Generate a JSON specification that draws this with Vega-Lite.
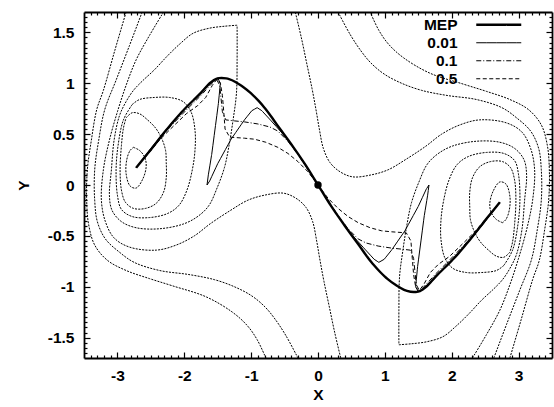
{
"$schema": "https://vega.github.io/schema/vega-lite/v6.json",
"width": 468, "height": 346,
"autosize": {"type": "none"},
"padding": {"left": 84, "top": 12, "right": 2, "bottom": 49},
"background": "white",
"config": {
  "view": {"stroke": null},
  "font": "Liberation Sans",
  "axis": {"grid": false, "domainColor": "black", "tickColor": "black", "labelColor": "black", "titleColor": "black",
           "labelFont": "Liberation Sans", "titleFont": "Liberation Sans", "labelFontSize": 15.5, "titleFontSize": 15.5,
           "labelFontWeight": "bold", "titleFontWeight": "bold", "domainWidth": 1.8, "tickWidth": 1.2, "labelFlush": false, "labelOverlap": false}
},
"datasets": {
"contours": [
{"c":"N1L","i":0,"x":-2.76,"y":0.37},{"c":"N1L","i":1,"x":-2.67,"y":0.34},{"c":"N1L","i":2,"x":-2.59,"y":0.27},{"c":"N1L","i":3,"x":-2.57,"y":0.18},{"c":"N1L","i":4,"x":-2.62,"y":0.06},{"c":"N1L","i":5,"x":-2.72,"y":-0.03},{"c":"N1L","i":6,"x":-2.81,"y":-0.01},{"c":"N1L","i":7,"x":-2.87,"y":0.11},{"c":"N1L","i":8,"x":-2.86,"y":0.25},{"c":"N1L","i":9,"x":-2.81,"y":0.34},{"c":"N1L","i":10,"x":-2.76,"y":0.37},
{"c":"N1R","i":0,"x":2.76,"y":-0.37},{"c":"N1R","i":1,"x":2.67,"y":-0.34},{"c":"N1R","i":2,"x":2.59,"y":-0.27},{"c":"N1R","i":3,"x":2.57,"y":-0.18},{"c":"N1R","i":4,"x":2.62,"y":-0.06},{"c":"N1R","i":5,"x":2.72,"y":0.03},{"c":"N1R","i":6,"x":2.81,"y":0.01},{"c":"N1R","i":7,"x":2.87,"y":-0.11},{"c":"N1R","i":8,"x":2.86,"y":-0.25},{"c":"N1R","i":9,"x":2.81,"y":-0.34},{"c":"N1R","i":10,"x":2.76,"y":-0.37},
{"c":"N2L","i":0,"x":-2.87,"y":0.66},{"c":"N2L","i":1,"x":-2.78,"y":0.71},{"c":"N2L","i":2,"x":-2.67,"y":0.70},{"c":"N2L","i":3,"x":-2.55,"y":0.64},{"c":"N2L","i":4,"x":-2.43,"y":0.56},{"c":"N2L","i":5,"x":-2.34,"y":0.46},{"c":"N2L","i":6,"x":-2.28,"y":0.34},{"c":"N2L","i":7,"x":-2.27,"y":0.22},{"c":"N2L","i":8,"x":-2.27,"y":0.07},{"c":"N2L","i":9,"x":-2.31,"y":-0.07},{"c":"N2L","i":10,"x":-2.42,"y":-0.18},{"c":"N2L","i":11,"x":-2.58,"y":-0.23},{"c":"N2L","i":12,"x":-2.76,"y":-0.23},{"c":"N2L","i":13,"x":-2.88,"y":-0.17},{"c":"N2L","i":14,"x":-2.94,"y":-0.05},{"c":"N2L","i":15,"x":-2.96,"y":0.15},{"c":"N2L","i":16,"x":-2.94,"y":0.39},{"c":"N2L","i":17,"x":-2.91,"y":0.56},{"c":"N2L","i":18,"x":-2.87,"y":0.66},
{"c":"N2R","i":0,"x":2.87,"y":-0.66},{"c":"N2R","i":1,"x":2.78,"y":-0.71},{"c":"N2R","i":2,"x":2.67,"y":-0.70},{"c":"N2R","i":3,"x":2.55,"y":-0.64},{"c":"N2R","i":4,"x":2.43,"y":-0.56},{"c":"N2R","i":5,"x":2.34,"y":-0.46},{"c":"N2R","i":6,"x":2.28,"y":-0.34},{"c":"N2R","i":7,"x":2.27,"y":-0.22},{"c":"N2R","i":8,"x":2.27,"y":-0.07},{"c":"N2R","i":9,"x":2.31,"y":0.07},{"c":"N2R","i":10,"x":2.42,"y":0.18},{"c":"N2R","i":11,"x":2.58,"y":0.23},{"c":"N2R","i":12,"x":2.76,"y":0.23},{"c":"N2R","i":13,"x":2.88,"y":0.17},{"c":"N2R","i":14,"x":2.94,"y":0.05},{"c":"N2R","i":15,"x":2.96,"y":-0.15},{"c":"N2R","i":16,"x":2.94,"y":-0.39},{"c":"N2R","i":17,"x":2.91,"y":-0.56},{"c":"N2R","i":18,"x":2.87,"y":-0.66},
{"c":"CaL","i":0,"x":-2.78,"y":0.79},{"c":"CaL","i":1,"x":-2.67,"y":0.84},{"c":"CaL","i":2,"x":-2.45,"y":0.86},{"c":"CaL","i":3,"x":-2.22,"y":0.86},{"c":"CaL","i":4,"x":-2.02,"y":0.82},{"c":"CaL","i":5,"x":-1.90,"y":0.72},{"c":"CaL","i":6,"x":-1.84,"y":0.54},{"c":"CaL","i":7,"x":-1.84,"y":0.34},{"c":"CaL","i":8,"x":-1.88,"y":0.15},{"c":"CaL","i":9,"x":-1.96,"y":-0.05},{"c":"CaL","i":10,"x":-2.08,"y":-0.20},{"c":"CaL","i":11,"x":-2.25,"y":-0.28},{"c":"CaL","i":12,"x":-2.52,"y":-0.32},{"c":"CaL","i":13,"x":-2.78,"y":-0.31},{"c":"CaL","i":14,"x":-2.94,"y":-0.24},{"c":"CaL","i":15,"x":-3.0,"y":-0.10},{"c":"CaL","i":16,"x":-3.02,"y":0.15},{"c":"CaL","i":17,"x":-2.99,"y":0.39},{"c":"CaL","i":18,"x":-2.91,"y":0.64},{"c":"CaL","i":19,"x":-2.78,"y":0.79},
{"c":"CaR","i":0,"x":2.78,"y":-0.79},{"c":"CaR","i":1,"x":2.67,"y":-0.84},{"c":"CaR","i":2,"x":2.45,"y":-0.86},{"c":"CaR","i":3,"x":2.22,"y":-0.86},{"c":"CaR","i":4,"x":2.02,"y":-0.82},{"c":"CaR","i":5,"x":1.90,"y":-0.72},{"c":"CaR","i":6,"x":1.84,"y":-0.54},{"c":"CaR","i":7,"x":1.84,"y":-0.34},{"c":"CaR","i":8,"x":1.88,"y":-0.15},{"c":"CaR","i":9,"x":1.96,"y":0.05},{"c":"CaR","i":10,"x":2.08,"y":0.20},{"c":"CaR","i":11,"x":2.25,"y":0.28},{"c":"CaR","i":12,"x":2.52,"y":0.32},{"c":"CaR","i":13,"x":2.78,"y":0.31},{"c":"CaR","i":14,"x":2.94,"y":0.24},{"c":"CaR","i":15,"x":3.0,"y":0.10},{"c":"CaR","i":16,"x":3.02,"y":-0.15},{"c":"CaR","i":17,"x":2.99,"y":-0.39},{"c":"CaR","i":18,"x":2.91,"y":-0.64},{"c":"CaR","i":19,"x":2.78,"y":-0.79},
{"c":"BoxL","i":0,"x":-1.21,"y":1.57},{"c":"BoxL","i":1,"x":-1.40,"y":1.56},{"c":"BoxL","i":2,"x":-1.63,"y":1.54},{"c":"BoxL","i":3,"x":-1.87,"y":1.49},{"c":"BoxL","i":4,"x":-2.06,"y":1.39},{"c":"BoxL","i":5,"x":-2.25,"y":1.27},{"c":"BoxL","i":6,"x":-2.45,"y":1.13},{"c":"BoxL","i":7,"x":-2.63,"y":1.02},{"c":"BoxL","i":8,"x":-2.76,"y":0.93},{"c":"BoxL","i":9,"x":-2.87,"y":0.82},{"c":"BoxL","i":10,"x":-2.97,"y":0.68},{"c":"BoxL","i":11,"x":-3.05,"y":0.44},{"c":"BoxL","i":12,"x":-3.09,"y":0.15},{"c":"BoxL","i":13,"x":-3.12,"y":-0.10},{"c":"BoxL","i":14,"x":-3.08,"y":-0.25},{"c":"BoxL","i":15,"x":-2.94,"y":-0.36},{"c":"BoxL","i":16,"x":-2.72,"y":-0.42},{"c":"BoxL","i":17,"x":-2.37,"y":-0.43},{"c":"BoxL","i":18,"x":-2.0,"y":-0.38},{"c":"BoxL","i":19,"x":-1.78,"y":-0.30},{"c":"BoxL","i":20,"x":-1.63,"y":-0.20},{"c":"BoxL","i":21,"x":-1.51,"y":-0.03},{"c":"BoxL","i":22,"x":-1.40,"y":0.17},{"c":"BoxL","i":23,"x":-1.33,"y":0.39},{"c":"BoxL","i":24,"x":-1.27,"y":0.64},{"c":"BoxL","i":25,"x":-1.22,"y":0.90},{"c":"BoxL","i":26,"x":-1.21,"y":1.23},{"c":"BoxL","i":27,"x":-1.21,"y":1.57},
{"c":"BoxR","i":0,"x":1.21,"y":-1.57},{"c":"BoxR","i":1,"x":1.40,"y":-1.56},{"c":"BoxR","i":2,"x":1.63,"y":-1.54},{"c":"BoxR","i":3,"x":1.87,"y":-1.49},{"c":"BoxR","i":4,"x":2.06,"y":-1.39},{"c":"BoxR","i":5,"x":2.25,"y":-1.27},{"c":"BoxR","i":6,"x":2.45,"y":-1.13},{"c":"BoxR","i":7,"x":2.63,"y":-1.02},{"c":"BoxR","i":8,"x":2.76,"y":-0.93},{"c":"BoxR","i":9,"x":2.87,"y":-0.82},{"c":"BoxR","i":10,"x":2.97,"y":-0.68},{"c":"BoxR","i":11,"x":3.05,"y":-0.44},{"c":"BoxR","i":12,"x":3.09,"y":-0.15},{"c":"BoxR","i":13,"x":3.12,"y":0.10},{"c":"BoxR","i":14,"x":3.08,"y":0.25},{"c":"BoxR","i":15,"x":2.94,"y":0.36},{"c":"BoxR","i":16,"x":2.72,"y":0.42},{"c":"BoxR","i":17,"x":2.37,"y":0.43},{"c":"BoxR","i":18,"x":2.0,"y":0.38},{"c":"BoxR","i":19,"x":1.78,"y":0.30},{"c":"BoxR","i":20,"x":1.63,"y":0.20},{"c":"BoxR","i":21,"x":1.51,"y":0.03},{"c":"BoxR","i":22,"x":1.40,"y":-0.17},{"c":"BoxR","i":23,"x":1.33,"y":-0.39},{"c":"BoxR","i":24,"x":1.27,"y":-0.64},{"c":"BoxR","i":25,"x":1.22,"y":-0.90},{"c":"BoxR","i":26,"x":1.21,"y":-1.23},{"c":"BoxR","i":27,"x":1.21,"y":-1.57},
{"c":"b3L","i":0,"x":-2.31,"y":1.70},{"c":"b3L","i":1,"x":-2.52,"y":1.47},{"c":"b3L","i":2,"x":-2.72,"y":1.23},{"c":"b3L","i":3,"x":-2.87,"y":0.98},{"c":"b3L","i":4,"x":-3.0,"y":0.72},{"c":"b3L","i":5,"x":-3.12,"y":0.44},{"c":"b3L","i":6,"x":-3.21,"y":0.15},{"c":"b3L","i":7,"x":-3.24,"y":-0.15},{"c":"b3L","i":8,"x":-3.18,"y":-0.36},{"c":"b3L","i":9,"x":-3.05,"y":-0.52},{"c":"b3L","i":10,"x":-2.82,"y":-0.61},{"c":"b3L","i":11,"x":-2.42,"y":-0.64},{"c":"b3L","i":12,"x":-2.12,"y":-0.59},{"c":"b3L","i":13,"x":-1.85,"y":-0.50},{"c":"b3L","i":14,"x":-1.61,"y":-0.38},{"c":"b3L","i":15,"x":-1.31,"y":-0.25},{"c":"b3L","i":16,"x":-1.05,"y":-0.15},{"c":"b3L","i":17,"x":-0.80,"y":-0.10},{"c":"b3L","i":18,"x":-0.52,"y":-0.08},{"c":"b3L","i":19,"x":-0.33,"y":-0.13},{"c":"b3L","i":20,"x":-0.18,"y":-0.22},{"c":"b3L","i":21,"x":-0.08,"y":-0.36},{"c":"b3L","i":22,"x":-0.02,"y":-0.55},{"c":"b3L","i":23,"x":0.03,"y":-0.74},{"c":"b3L","i":24,"x":0.09,"y":-0.95},{"c":"b3L","i":25,"x":0.17,"y":-1.20},{"c":"b3L","i":26,"x":0.25,"y":-1.45},{"c":"b3L","i":27,"x":0.34,"y":-1.70},
{"c":"b3R","i":0,"x":2.31,"y":-1.70},{"c":"b3R","i":1,"x":2.52,"y":-1.47},{"c":"b3R","i":2,"x":2.72,"y":-1.23},{"c":"b3R","i":3,"x":2.87,"y":-0.98},{"c":"b3R","i":4,"x":3.0,"y":-0.72},{"c":"b3R","i":5,"x":3.12,"y":-0.44},{"c":"b3R","i":6,"x":3.21,"y":-0.15},{"c":"b3R","i":7,"x":3.24,"y":0.15},{"c":"b3R","i":8,"x":3.18,"y":0.36},{"c":"b3R","i":9,"x":3.05,"y":0.52},{"c":"b3R","i":10,"x":2.82,"y":0.61},{"c":"b3R","i":11,"x":2.42,"y":0.64},{"c":"b3R","i":12,"x":2.12,"y":0.59},{"c":"b3R","i":13,"x":1.85,"y":0.50},{"c":"b3R","i":14,"x":1.61,"y":0.38},{"c":"b3R","i":15,"x":1.31,"y":0.25},{"c":"b3R","i":16,"x":1.05,"y":0.15},{"c":"b3R","i":17,"x":0.80,"y":0.10},{"c":"b3R","i":18,"x":0.52,"y":0.08},{"c":"b3R","i":19,"x":0.33,"y":0.13},{"c":"b3R","i":20,"x":0.18,"y":0.22},{"c":"b3R","i":21,"x":0.08,"y":0.36},{"c":"b3R","i":22,"x":0.02,"y":0.55},{"c":"b3R","i":23,"x":-0.03,"y":0.74},{"c":"b3R","i":24,"x":-0.09,"y":0.95},{"c":"b3R","i":25,"x":-0.17,"y":1.20},{"c":"b3R","i":26,"x":-0.25,"y":1.45},{"c":"b3R","i":27,"x":-0.34,"y":1.70},
{"c":"b4L","i":0,"x":-2.63,"y":1.70},{"c":"b4L","i":1,"x":-2.82,"y":1.37},{"c":"b4L","i":2,"x":-3.02,"y":1.03},{"c":"b4L","i":3,"x":-3.19,"y":0.74},{"c":"b4L","i":4,"x":-3.28,"y":0.44},{"c":"b4L","i":5,"x":-3.34,"y":0.15},{"c":"b4L","i":6,"x":-3.34,"y":-0.15},{"c":"b4L","i":7,"x":-3.30,"y":-0.36},{"c":"b4L","i":8,"x":-3.18,"y":-0.53},{"c":"b4L","i":9,"x":-2.97,"y":-0.66},{"c":"b4L","i":10,"x":-2.75,"y":-0.76},{"c":"b4L","i":11,"x":-2.37,"y":-0.84},{"c":"b4L","i":12,"x":-1.93,"y":-0.88},{"c":"b4L","i":13,"x":-1.55,"y":-0.93},{"c":"b4L","i":14,"x":-1.25,"y":-1.0},{"c":"b4L","i":15,"x":-0.99,"y":-1.09},{"c":"b4L","i":16,"x":-0.79,"y":-1.2},{"c":"b4L","i":17,"x":-0.64,"y":-1.32},{"c":"b4L","i":18,"x":-0.48,"y":-1.48},{"c":"b4L","i":19,"x":-0.30,"y":-1.70},
{"c":"b4R","i":0,"x":2.63,"y":-1.70},{"c":"b4R","i":1,"x":2.82,"y":-1.37},{"c":"b4R","i":2,"x":3.02,"y":-1.03},{"c":"b4R","i":3,"x":3.19,"y":-0.74},{"c":"b4R","i":4,"x":3.28,"y":-0.44},{"c":"b4R","i":5,"x":3.34,"y":-0.15},{"c":"b4R","i":6,"x":3.34,"y":0.15},{"c":"b4R","i":7,"x":3.30,"y":0.36},{"c":"b4R","i":8,"x":3.18,"y":0.53},{"c":"b4R","i":9,"x":2.97,"y":0.66},{"c":"b4R","i":10,"x":2.75,"y":0.76},{"c":"b4R","i":11,"x":2.37,"y":0.84},{"c":"b4R","i":12,"x":1.93,"y":0.88},{"c":"b4R","i":13,"x":1.55,"y":0.93},{"c":"b4R","i":14,"x":1.25,"y":1.0},{"c":"b4R","i":15,"x":0.99,"y":1.09},{"c":"b4R","i":16,"x":0.79,"y":1.2},{"c":"b4R","i":17,"x":0.64,"y":1.32},{"c":"b4R","i":18,"x":0.48,"y":1.48},{"c":"b4R","i":19,"x":0.30,"y":1.70},
{"c":"b5L","i":0,"x":-2.87,"y":1.70},{"c":"b5L","i":1,"x":-3.04,"y":1.32},{"c":"b5L","i":2,"x":-3.21,"y":0.93},{"c":"b5L","i":3,"x":-3.31,"y":0.74},{"c":"b5L","i":4,"x":-3.39,"y":0.44},{"c":"b5L","i":5,"x":-3.45,"y":0.15},{"c":"b5L","i":6,"x":-3.46,"y":-0.15},{"c":"b5L","i":7,"x":-3.43,"y":-0.39},{"c":"b5L","i":8,"x":-3.34,"y":-0.59},{"c":"b5L","i":9,"x":-3.15,"y":-0.74},{"c":"b5L","i":10,"x":-2.87,"y":-0.84},{"c":"b5L","i":11,"x":-2.52,"y":-0.92},{"c":"b5L","i":12,"x":-2.18,"y":-0.99},{"c":"b5L","i":13,"x":-1.67,"y":-1.10},{"c":"b5L","i":14,"x":-1.28,"y":-1.25},{"c":"b5L","i":15,"x":-1.06,"y":-1.38},{"c":"b5L","i":16,"x":-0.91,"y":-1.52},{"c":"b5L","i":17,"x":-0.78,"y":-1.70},
{"c":"b5R","i":0,"x":2.87,"y":-1.70},{"c":"b5R","i":1,"x":3.04,"y":-1.32},{"c":"b5R","i":2,"x":3.21,"y":-0.93},{"c":"b5R","i":3,"x":3.31,"y":-0.74},{"c":"b5R","i":4,"x":3.39,"y":-0.44},{"c":"b5R","i":5,"x":3.45,"y":-0.15},{"c":"b5R","i":6,"x":3.46,"y":0.15},{"c":"b5R","i":7,"x":3.43,"y":0.39},{"c":"b5R","i":8,"x":3.34,"y":0.59},{"c":"b5R","i":9,"x":3.15,"y":0.74},{"c":"b5R","i":10,"x":2.87,"y":0.84},{"c":"b5R","i":11,"x":2.52,"y":0.92},{"c":"b5R","i":12,"x":2.18,"y":0.99},{"c":"b5R","i":13,"x":1.67,"y":1.10},{"c":"b5R","i":14,"x":1.28,"y":1.25},{"c":"b5R","i":15,"x":1.06,"y":1.38},{"c":"b5R","i":16,"x":0.91,"y":1.52},{"c":"b5R","i":17,"x":0.78,"y":1.70}
],
"paths": [
{"p":"MEP","i":0,"x":-2.72,"y":0.17},{"p":"MEP","i":1,"x":-2.51,"y":0.34},{"p":"MEP","i":2,"x":-2.27,"y":0.54},{"p":"MEP","i":3,"x":-2.02,"y":0.73},{"p":"MEP","i":4,"x":-1.76,"y":0.90},{"p":"MEP","i":5,"x":-1.6,"y":1.01},{"p":"MEP","i":6,"x":-1.48,"y":1.05},{"p":"MEP","i":7,"x":-1.33,"y":1.04},{"p":"MEP","i":8,"x":-1.18,"y":0.99},{"p":"MEP","i":9,"x":-1.0,"y":0.90},{"p":"MEP","i":10,"x":-0.8,"y":0.76},{"p":"MEP","i":11,"x":-0.6,"y":0.58},{"p":"MEP","i":12,"x":-0.4,"y":0.40},{"p":"MEP","i":13,"x":-0.2,"y":0.21},{"p":"MEP","i":14,"x":0,"y":0},{"p":"MEP","i":15,"x":0.2,"y":-0.21},{"p":"MEP","i":16,"x":0.4,"y":-0.40},{"p":"MEP","i":17,"x":0.6,"y":-0.58},{"p":"MEP","i":18,"x":0.8,"y":-0.76},{"p":"MEP","i":19,"x":1.0,"y":-0.90},{"p":"MEP","i":20,"x":1.18,"y":-0.99},{"p":"MEP","i":21,"x":1.33,"y":-1.04},{"p":"MEP","i":22,"x":1.48,"y":-1.05},{"p":"MEP","i":23,"x":1.6,"y":-1.01},{"p":"MEP","i":24,"x":1.76,"y":-0.90},{"p":"MEP","i":25,"x":2.02,"y":-0.73},{"p":"MEP","i":26,"x":2.27,"y":-0.54},{"p":"MEP","i":27,"x":2.51,"y":-0.34},{"p":"MEP","i":28,"x":2.72,"y":-0.17},
{"p":"0.01","i":0,"x":-2.72,"y":0.17},{"p":"0.01","i":1,"x":-2.5,"y":0.36},{"p":"0.01","i":2,"x":-2.2,"y":0.60},{"p":"0.01","i":3,"x":-1.9,"y":0.81},{"p":"0.01","i":4,"x":-1.7,"y":0.95},{"p":"0.01","i":5,"x":-1.56,"y":1.03},{"p":"0.01","i":6,"x":-1.5,"y":1.05},{"p":"0.01","i":7,"x":-1.46,"y":1.0},{"p":"0.01","i":8,"x":-1.49,"y":0.80},{"p":"0.01","i":9,"x":-1.54,"y":0.55},{"p":"0.01","i":10,"x":-1.59,"y":0.30},{"p":"0.01","i":11,"x":-1.64,"y":0.10},{"p":"0.01","i":12,"x":-1.66,"y":0.0},{"p":"0.01","i":13,"x":-1.62,"y":0.04},{"p":"0.01","i":14,"x":-1.5,"y":0.21},{"p":"0.01","i":15,"x":-1.3,"y":0.45},{"p":"0.01","i":16,"x":-1.1,"y":0.64},{"p":"0.01","i":17,"x":-0.99,"y":0.73},{"p":"0.01","i":18,"x":-0.91,"y":0.76},{"p":"0.01","i":19,"x":-0.84,"y":0.73},{"p":"0.01","i":20,"x":-0.7,"y":0.63},{"p":"0.01","i":21,"x":-0.55,"y":0.52},{"p":"0.01","i":22,"x":-0.4,"y":0.40},{"p":"0.01","i":23,"x":-0.2,"y":0.21},{"p":"0.01","i":24,"x":0,"y":0},{"p":"0.01","i":25,"x":0.2,"y":-0.21},{"p":"0.01","i":26,"x":0.4,"y":-0.40},{"p":"0.01","i":27,"x":0.55,"y":-0.52},{"p":"0.01","i":28,"x":0.7,"y":-0.63},{"p":"0.01","i":29,"x":0.84,"y":-0.73},{"p":"0.01","i":30,"x":0.91,"y":-0.76},{"p":"0.01","i":31,"x":0.99,"y":-0.73},{"p":"0.01","i":32,"x":1.1,"y":-0.64},{"p":"0.01","i":33,"x":1.3,"y":-0.45},{"p":"0.01","i":34,"x":1.5,"y":-0.21},{"p":"0.01","i":35,"x":1.62,"y":-0.04},{"p":"0.01","i":36,"x":1.66,"y":0.0},{"p":"0.01","i":37,"x":1.64,"y":-0.10},{"p":"0.01","i":38,"x":1.59,"y":-0.30},{"p":"0.01","i":39,"x":1.54,"y":-0.55},{"p":"0.01","i":40,"x":1.49,"y":-0.80},{"p":"0.01","i":41,"x":1.46,"y":-1.0},{"p":"0.01","i":42,"x":1.5,"y":-1.05},{"p":"0.01","i":43,"x":1.56,"y":-1.03},{"p":"0.01","i":44,"x":1.7,"y":-0.95},{"p":"0.01","i":45,"x":1.9,"y":-0.81},{"p":"0.01","i":46,"x":2.2,"y":-0.60},{"p":"0.01","i":47,"x":2.5,"y":-0.36},{"p":"0.01","i":48,"x":2.72,"y":-0.17},
{"p":"0.1","i":0,"x":-2.72,"y":0.17},{"p":"0.1","i":1,"x":-2.45,"y":0.39},{"p":"0.1","i":2,"x":-2.2,"y":0.58},{"p":"0.1","i":3,"x":-1.95,"y":0.75},{"p":"0.1","i":4,"x":-1.75,"y":0.88},{"p":"0.1","i":5,"x":-1.6,"y":0.99},{"p":"0.1","i":6,"x":-1.52,"y":1.04},{"p":"0.1","i":7,"x":-1.47,"y":0.98},{"p":"0.1","i":8,"x":-1.45,"y":0.85},{"p":"0.1","i":9,"x":-1.43,"y":0.72},{"p":"0.1","i":10,"x":-1.38,"y":0.64},{"p":"0.1","i":11,"x":-1.25,"y":0.63},{"p":"0.1","i":12,"x":-1.1,"y":0.62},{"p":"0.1","i":13,"x":-0.9,"y":0.60},{"p":"0.1","i":14,"x":-0.72,"y":0.57},{"p":"0.1","i":15,"x":-0.6,"y":0.53},{"p":"0.1","i":16,"x":-0.45,"y":0.43},{"p":"0.1","i":17,"x":-0.3,"y":0.3},{"p":"0.1","i":18,"x":-0.15,"y":0.15},{"p":"0.1","i":19,"x":0,"y":0},{"p":"0.1","i":20,"x":0.15,"y":-0.15},{"p":"0.1","i":21,"x":0.3,"y":-0.3},{"p":"0.1","i":22,"x":0.45,"y":-0.43},{"p":"0.1","i":23,"x":0.6,"y":-0.53},{"p":"0.1","i":24,"x":0.72,"y":-0.57},{"p":"0.1","i":25,"x":0.9,"y":-0.60},{"p":"0.1","i":26,"x":1.1,"y":-0.62},{"p":"0.1","i":27,"x":1.25,"y":-0.63},{"p":"0.1","i":28,"x":1.38,"y":-0.64},{"p":"0.1","i":29,"x":1.43,"y":-0.72},{"p":"0.1","i":30,"x":1.45,"y":-0.85},{"p":"0.1","i":31,"x":1.47,"y":-0.98},{"p":"0.1","i":32,"x":1.52,"y":-1.04},{"p":"0.1","i":33,"x":1.6,"y":-0.99},{"p":"0.1","i":34,"x":1.75,"y":-0.88},{"p":"0.1","i":35,"x":1.95,"y":-0.75},{"p":"0.1","i":36,"x":2.2,"y":-0.58},{"p":"0.1","i":37,"x":2.45,"y":-0.39},{"p":"0.1","i":38,"x":2.72,"y":-0.17},
{"p":"0.5","i":0,"x":-2.72,"y":0.17},{"p":"0.5","i":1,"x":-2.51,"y":0.33},{"p":"0.5","i":2,"x":-2.36,"y":0.45},{"p":"0.5","i":3,"x":-2.16,"y":0.58},{"p":"0.5","i":4,"x":-1.97,"y":0.70},{"p":"0.5","i":5,"x":-1.8,"y":0.78},{"p":"0.5","i":6,"x":-1.68,"y":0.86},{"p":"0.5","i":7,"x":-1.58,"y":0.98},{"p":"0.5","i":8,"x":-1.51,"y":1.04},{"p":"0.5","i":9,"x":-1.46,"y":1.0},{"p":"0.5","i":10,"x":-1.43,"y":0.88},{"p":"0.5","i":11,"x":-1.41,"y":0.72},{"p":"0.5","i":12,"x":-1.39,"y":0.55},{"p":"0.5","i":13,"x":-1.32,"y":0.47},{"p":"0.5","i":14,"x":-1.1,"y":0.46},{"p":"0.5","i":15,"x":-0.95,"y":0.45},{"p":"0.5","i":16,"x":-0.78,"y":0.42},{"p":"0.5","i":17,"x":-0.6,"y":0.37},{"p":"0.5","i":18,"x":-0.45,"y":0.31},{"p":"0.5","i":19,"x":-0.3,"y":0.23},{"p":"0.5","i":20,"x":-0.15,"y":0.13},{"p":"0.5","i":21,"x":0,"y":0},{"p":"0.5","i":22,"x":0.15,"y":-0.13},{"p":"0.5","i":23,"x":0.3,"y":-0.23},{"p":"0.5","i":24,"x":0.45,"y":-0.31},{"p":"0.5","i":25,"x":0.6,"y":-0.37},{"p":"0.5","i":26,"x":0.78,"y":-0.42},{"p":"0.5","i":27,"x":0.95,"y":-0.45},{"p":"0.5","i":28,"x":1.1,"y":-0.46},{"p":"0.5","i":29,"x":1.32,"y":-0.47},{"p":"0.5","i":30,"x":1.39,"y":-0.55},{"p":"0.5","i":31,"x":1.41,"y":-0.72},{"p":"0.5","i":32,"x":1.43,"y":-0.88},{"p":"0.5","i":33,"x":1.46,"y":-1.0},{"p":"0.5","i":34,"x":1.51,"y":-1.04},{"p":"0.5","i":35,"x":1.58,"y":-0.98},{"p":"0.5","i":36,"x":1.68,"y":-0.86},{"p":"0.5","i":37,"x":1.8,"y":-0.78},{"p":"0.5","i":38,"x":1.97,"y":-0.70},{"p":"0.5","i":39,"x":2.16,"y":-0.58},{"p":"0.5","i":40,"x":2.36,"y":-0.45},{"p":"0.5","i":41,"x":2.51,"y":-0.33},{"p":"0.5","i":42,"x":2.72,"y":-0.17}
],
"dot": [{"x": 0, "y": 0}]
},
"layer": [
{
 "data": {"name": "contours"},
 "mark": {"type": "line", "stroke": "black", "strokeWidth": 1, "strokeDash": [2, 1.2], "interpolate": "catmull-rom", "clip": true},
 "encoding": {
  "x": {"field": "x", "type": "quantitative", "scale": {"domain": [-3.5, 3.5], "nice": false, "zero": false},
        "axis": {"orient": "bottom", "values": [-3,-2,-1,0,1,2,3], "tickSize": -6, "labelPadding": 16, "labelExpr": "toString(datum.value)", "title": "X", "titlePadding": 4}},
  "y": {"field": "y", "type": "quantitative", "scale": {"domain": [-1.7, 1.7], "nice": false, "zero": false},
        "axis": {"orient": "left", "values": [-1.5,-1,-0.5,0,0.5,1,1.5], "tickSize": -6, "labelPadding": 16, "labelExpr": "toString(datum.value)", "title": "Y", "titlePadding": 16}},
  "detail": {"field": "c"},
  "order": {"field": "i", "type": "quantitative"}
 }
},
{
 "data": {"name": "paths"},
 "transform": [{"filter": "datum.p === 'MEP'"}],
 "mark": {"type": "line", "stroke": "black", "strokeWidth": 2.4, "interpolate": "catmull-rom", "clip": true},
 "encoding": {
  "x": {"field": "x", "type": "quantitative", "scale": {"domain": [-3.5, 3.5], "nice": false, "zero": false},
        "axis": {"orient": "top", "values": [-3,-2,-1,0,1,2,3], "tickSize": -6, "labels": false, "title": null}},
  "y": {"field": "y", "type": "quantitative", "scale": {"domain": [-1.7, 1.7], "nice": false, "zero": false},
        "axis": {"orient": "right", "values": [-1.5,-1,-0.5,0,0.5,1,1.5], "tickSize": -6, "labels": false, "title": null}},
  "strokeDash": {"field": "p", "type": "nominal",
     "scale": {"domain": ["MEP","0.01","0.1","0.5"], "range": [[10,0],[10,0],[5,2,1,2],[4,2.5]]},
     "legend": {"title": null, "orient": "none", "legendX": 407, "legendY": 5, "direction": "vertical", "symbolType": "stroke", "symbolSize": 2025,
                "symbolStrokeColor": "black", "labelAlign": "right", "labelOffset": -49, "labelFontSize": 15.5, "labelFontWeight": "bold", "labelFont": "Liberation Sans", "labelColor": "black",
                "rowPadding": 1, "padding": 0,
                "encode": {"symbols": {"update": {"strokeWidth": {"signal": "datum.value === 'MEP' ? 2.4 : 1"}}}}}},
  "order": {"field": "i", "type": "quantitative"}
 }
},
{
 "data": {"name": "paths"},
 "transform": [{"filter": "datum.p !== 'MEP'"}],
 "mark": {"type": "line", "stroke": "black", "strokeWidth": 1, "interpolate": "linear", "clip": true},
 "encoding": {
  "x": {"field": "x", "type": "quantitative", "scale": {"domain": [-3.5, 3.5], "nice": false, "zero": false},
        "axis": {"orient": "bottom", "values": [-3.4,-3.3,-3.2,-3.1,-2.9,-2.8,-2.7,-2.6,-2.5,-2.4,-2.3,-2.2,-2.1,-1.9,-1.8,-1.7,-1.6,-1.5,-1.4,-1.3,-1.2,-1.1,-0.9,-0.8,-0.7,-0.6,-0.5,-0.4,-0.3,-0.2,-0.1,0.1,0.2,0.3,0.4,0.5,0.6,0.7,0.8,0.9,1.1,1.2,1.3,1.4,1.5,1.6,1.7,1.8,1.9,2.1,2.2,2.3,2.4,2.5,2.6,2.7,2.8,2.9,3.1,3.2,3.3,3.4], "tickSize": -3, "labels": false, "domain": false, "title": null}},
  "y": {"field": "y", "type": "quantitative", "scale": {"domain": [-1.7, 1.7], "nice": false, "zero": false},
        "axis": {"orient": "left", "values": [-1.65,-1.6,-1.55,-1.45,-1.4,-1.35,-1.3,-1.25,-1.2,-1.15,-1.1,-1.05,-0.95,-0.9,-0.85,-0.8,-0.75,-0.7,-0.65,-0.6,-0.55,-0.45,-0.4,-0.35,-0.3,-0.25,-0.2,-0.15,-0.1,-0.05,0.05,0.1,0.15,0.2,0.25,0.3,0.35,0.4,0.45,0.55,0.6,0.65,0.7,0.75,0.8,0.85,0.9,0.95,1.05,1.1,1.15,1.2,1.25,1.3,1.35,1.4,1.45,1.55,1.6,1.65], "tickSize": -3, "labels": false, "domain": false, "title": null}},
  "strokeDash": {"field": "p", "type": "nominal",
     "scale": {"domain": ["MEP","0.01","0.1","0.5"], "range": [[10,0],[10,0],[5,2,1,2],[4,2.5]]},
     "legend": {"title": null, "orient": "none", "legendX": 407, "legendY": 5, "direction": "vertical", "symbolType": "stroke", "symbolSize": 2025,
                "symbolStrokeColor": "black", "labelAlign": "right", "labelOffset": -49, "labelFontSize": 15.5, "labelFontWeight": "bold", "labelFont": "Liberation Sans", "labelColor": "black",
                "rowPadding": 1, "padding": 0,
                "encode": {"symbols": {"update": {"strokeWidth": {"signal": "datum.value === 'MEP' ? 2.4 : 1"}}}}}},
  "order": {"field": "i", "type": "quantitative"}
 }
},
{
 "data": {"name": "dot"},
 "mark": {"type": "point", "filled": true, "color": "black", "opacity": 1, "size": 55},
 "encoding": {
  "x": {"field": "x", "type": "quantitative", "scale": {"domain": [-3.5, 3.5], "nice": false, "zero": false},
        "axis": {"orient": "top", "values": [-3.4,-3.3,-3.2,-3.1,-2.9,-2.8,-2.7,-2.6,-2.5,-2.4,-2.3,-2.2,-2.1,-1.9,-1.8,-1.7,-1.6,-1.5,-1.4,-1.3,-1.2,-1.1,-0.9,-0.8,-0.7,-0.6,-0.5,-0.4,-0.3,-0.2,-0.1,0.1,0.2,0.3,0.4,0.5,0.6,0.7,0.8,0.9,1.1,1.2,1.3,1.4,1.5,1.6,1.7,1.8,1.9,2.1,2.2,2.3,2.4,2.5,2.6,2.7,2.8,2.9,3.1,3.2,3.3,3.4], "tickSize": -3, "labels": false, "domain": false, "title": null}},
  "y": {"field": "y", "type": "quantitative", "scale": {"domain": [-1.7, 1.7], "nice": false, "zero": false},
        "axis": {"orient": "right", "values": [-1.65,-1.6,-1.55,-1.45,-1.4,-1.35,-1.3,-1.25,-1.2,-1.15,-1.1,-1.05,-0.95,-0.9,-0.85,-0.8,-0.75,-0.7,-0.65,-0.6,-0.55,-0.45,-0.4,-0.35,-0.3,-0.25,-0.2,-0.15,-0.1,-0.05,0.05,0.1,0.15,0.2,0.25,0.3,0.35,0.4,0.45,0.55,0.6,0.65,0.7,0.75,0.8,0.85,0.9,0.95,1.05,1.1,1.15,1.2,1.25,1.3,1.35,1.4,1.45,1.55,1.6,1.65], "tickSize": -3, "labels": false, "domain": false, "title": null}}
 }
}
],
"resolve": {"axis": {"x": "independent", "y": "independent"}}
}
